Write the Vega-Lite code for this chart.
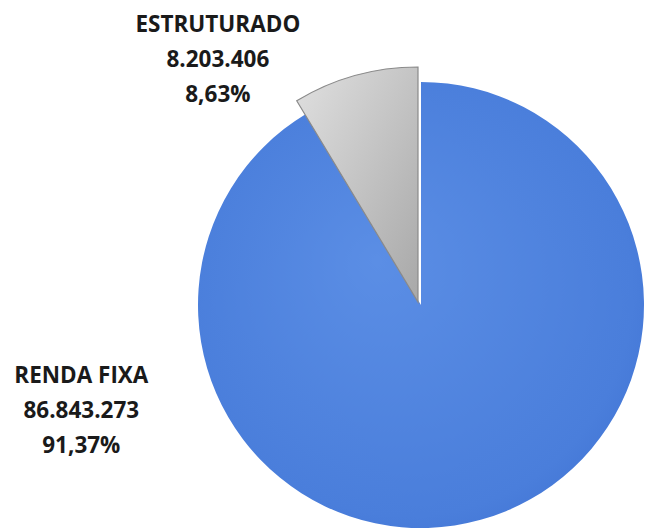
{
  "$schema": "https://vega.github.io/schema/vega-lite/v6.json",
  "autosize": {"type": "none"},
  "width": 446,
  "height": 446,
  "padding": {"left": 198, "top": 82, "right": 1, "bottom": 4},
  "background": "white",
  "config": {"view": {"stroke": null}},
  "data": {
    "values": [
      {"name": "RENDA FIXA", "value": 86843273, "label": "RENDA FIXA\n86.843.273\n91,37%"},
      {"name": "ESTRUTURADO", "value": 8203406, "label": "ESTRUTURADO\n8.203.406\n8,63%"}
    ]
  },
  "layer": [
    {
      "mark": {
        "type": "arc",
        "radius": 223,
        "fill": {"gradient": "radial", "x1": 0.4, "y1": 0.4, "r1": 0, "x2": 0.5, "y2": 0.5, "r2": 0.72,
          "stops": [{"offset": 0, "color": "#5b8ee5"}, {"offset": 0.7, "color": "#4a7edb"}, {"offset": 1, "color": "#3768cc"}]}
      },
      "encoding": {
        "theta": {"field": "value", "type": "quantitative", "stack": true},
        "order": {"field": "value", "sort": "descending"},
        "opacity": {"condition": {"test": "datum.name === 'RENDA FIXA'", "value": 1}, "value": 0}
      }
    },
    {
      "mark": {
        "type": "arc",
        "radius": 235,
        "xOffset": -3,
        "yOffset": -3,
        "stroke": "#8a8a8a",
        "strokeWidth": 1.2,
        "fill": {"gradient": "linear", "x1": 0, "y1": 0, "x2": 1, "y2": 1,
          "stops": [{"offset": 0, "color": "#e0e0e0"}, {"offset": 0.5, "color": "#c4c4c4"}, {"offset": 1, "color": "#a8a8a8"}]}
      },
      "encoding": {
        "theta": {"field": "value", "type": "quantitative", "stack": true},
        "order": {"field": "value", "sort": "descending"},
        "opacity": {"condition": {"test": "datum.name === 'ESTRUTURADO'", "value": 1}, "value": 0}
      }
    },
    {
      "transform": [{"filter": "datum.name === 'RENDA FIXA'"}],
      "mark": {"type": "text", "theta": 4.5066, "radius": 347, "lineBreak": "\n", "lineHeight": 35,
        "font": "Open Sans", "fontSize": 22.5, "fontWeight": 700, "color": "#1a1a1a", "align": "center", "baseline": "middle"},
      "encoding": {"text": {"field": "label", "type": "nominal"}}
    },
    {
      "transform": [{"filter": "datum.name === 'ESTRUTURADO'"}],
      "mark": {"type": "text", "theta": 5.6558, "radius": 346, "lineBreak": "\n", "lineHeight": 35,
        "font": "Open Sans", "fontSize": 22.5, "fontWeight": 700, "color": "#1a1a1a", "align": "center", "baseline": "middle"},
      "encoding": {"text": {"field": "label", "type": "nominal"}}
    }
  ]
}
